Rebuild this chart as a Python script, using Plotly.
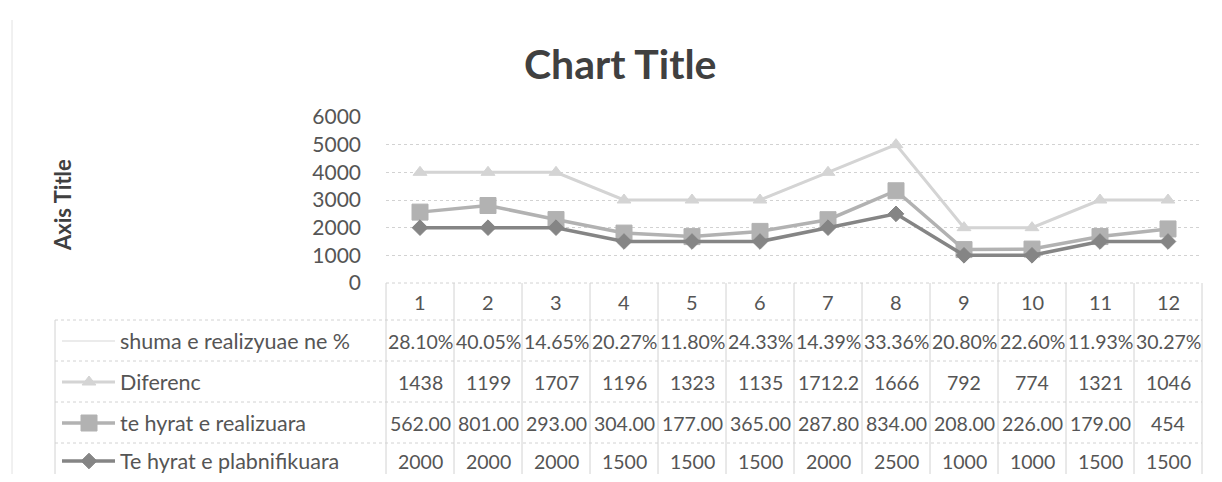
import plotly.graph_objects as go

# ---------------- data ----------------
months = ["1", "2", "3", "4", "5", "6", "7", "8", "9", "10", "11", "12"]
planned = [2000, 2000, 2000, 1500, 1500, 1500, 2000, 2500, 1000, 1000, 1500, 1500]
realized = [562, 801, 293, 304, 177, 365, 287.8, 834, 208, 226, 179, 454]
diferenc = [1438, 1199, 1707, 1196, 1323, 1135, 1712.2, 1666, 792, 774, 1321, 1046]
pct = [0.2810, 0.4005, 0.1465, 0.2027, 0.1180, 0.2433, 0.1439, 0.3336, 0.2080, 0.2260, 0.1193, 0.3027]

realized_labels = ["562.00", "801.00", "293.00", "304.00", "177.00", "365.00",
                   "287.80", "834.00", "208.00", "226.00", "179.00", "454"]
diferenc_labels = ["1438", "1199", "1707", "1196", "1323", "1135",
                   "1712.2", "1666", "792", "774", "1321", "1046"]
planned_labels = [str(v) for v in planned]
pct_labels = [f"{p*100:.2f}%" for p in pct]

series_names = ["shuma e realizyuae ne %", "Diferenc", "te hyrat e realizuara", "Te hyrat e plabnifikuara"]
y_ticks = [0, 1000, 2000, 3000, 4000, 5000, 6000]

# ---------------- geometry helpers (reference pixels -> paper) ----------------
PAGE_MARGIN = 8
W, H = 1222 - 2 * PAGE_MARGIN, 482 - 2 * PAGE_MARGIN
def X(px):
    return (px - PAGE_MARGIN) / W
def Y(py):
    return 1 - (py - PAGE_MARGIN) / H

FONT = "Lato, Carlito, Calibri, sans-serif"
TXT = "#555555"
GRID = "#d2d2d2"

plot_left, plot_right = 386, 1202
plot_top, plot_bottom = 117, 283
n = len(months)
colw = (plot_right - plot_left) / n

# stacked values (Excel stacked line)
s1 = planned
s2 = [a + b for a, b in zip(s1, realized)]
s3 = [a + b for a, b in zip(s2, diferenc)]
s4 = [a + b for a, b in zip(s3, pct)]
xs = list(range(1, n + 1))

styles = {
    "Te hyrat e plabnifikuara": dict(color="#858585", symbol="diamond", size=12, width=3.5),
    "te hyrat e realizuara": dict(color="#b2b2b2", symbol="square", size=16, width=3.5),
    "Diferenc": dict(color="#d4d4d4", symbol="triangle-up", size=12, width=3),
    "shuma e realizyuae ne %": dict(color="#ebebeb", symbol=None, size=0, width=2),
}

fig = go.Figure()
for name, ys in [("shuma e realizyuae ne %", s4), ("Diferenc", s3),
                 ("te hyrat e realizuara", s2), ("Te hyrat e plabnifikuara", s1)]:
    st = styles[name]
    mode = "lines+markers" if st["symbol"] else "lines"
    fig.add_trace(go.Scatter(
        x=xs, y=ys, name=name, mode=mode,
        line=dict(color=st["color"], width=st["width"]),
        marker=dict(symbol=st["symbol"] or "circle", size=st["size"], color=st["color"],
                    line=dict(color=st["color"], width=1)),
        showlegend=False,
    ))

fig.update_layout(
    width=W, height=H,
    margin=dict(l=0, r=0, t=0, b=0, autoexpand=False),
    paper_bgcolor="white", plot_bgcolor="rgba(0,0,0,0)",
    font=dict(family=FONT, color=TXT),
    xaxis=dict(domain=[X(plot_left), X(plot_right)], range=[0.5, n + 0.5],
               showgrid=False, zeroline=False, showticklabels=False, showline=False,
               automargin=False),
    yaxis=dict(domain=[Y(plot_bottom), Y(plot_top)], range=[0, 6000],
               tickvals=y_ticks, ticktext=[str(v) for v in y_ticks],
               showgrid=True, gridcolor=GRID, gridwidth=1, griddash="dot",
               zeroline=False, showline=False, automargin=False,
               tickfont=dict(size=21, color=TXT, family=FONT),
               ticks="", ticklabelstandoff=24),
)

shapes = []
annotations = []

def label(px, py, text, size, xanchor="center", color=TXT, angle=0):
    annotations.append(dict(x=X(px), y=Y(py), xref="paper", yref="paper", text=text,
                            showarrow=False, xanchor=xanchor, yanchor="middle", textangle=angle,
                            font=dict(size=size, color=color, family=FONT)))

# title and axis title
label(620, 63, "<b>Chart Title</b>", 41, color="#404040")
label(62, 205, "<b>Axis Title</b>", 22, color="#404040", angle=-90)

# faint left chart border
shapes.append(dict(type="line", xref="paper", yref="paper", x0=X(12), x1=X(12), y0=Y(20), y1=Y(482),
                   line=dict(color="#e2e2e2", width=1)))

# ---------------- data table ----------------
table_left = 55
row_edges = [283, 320, 361, 402, 443, 482]
for i, ry in enumerate(row_edges):
    x0 = plot_left if i == 0 else table_left
    shapes.append(dict(type="line", xref="paper", yref="paper", x0=X(x0), x1=X(plot_right),
                       y0=Y(ry), y1=Y(ry), line=dict(color=GRID, width=1, dash="dot")))
for k in range(n + 1):
    cx = plot_left + k * colw
    shapes.append(dict(type="line", xref="paper", yref="paper", x0=X(cx), x1=X(cx),
                       y0=Y(283), y1=Y(482), line=dict(color=GRID, width=1)))
shapes.append(dict(type="line", xref="paper", yref="paper", x0=X(table_left), x1=X(table_left),
                   y0=Y(320), y1=Y(482), line=dict(color=GRID, width=1)))

# category labels
for k, m in enumerate(months):
    label(plot_left + (k + 0.5) * colw, 302, m, 20)

rows = [
    ("shuma e realizyuae ne %", pct_labels, 341),
    ("Diferenc", diferenc_labels, 382),
    ("te hyrat e realizuara", realized_labels, 423),
    ("Te hyrat e plabnifikuara", planned_labels, 461),
]
for name, labels, ry in rows:
    st = styles[name]
    shapes.append(dict(type="line", xref="paper", yref="paper", x0=X(62), x1=X(115), y0=Y(ry), y1=Y(ry),
                       line=dict(color=st["color"], width=st["width"])))
    label(118, ry, name, 21.5, xanchor="left")
    for k, lab in enumerate(labels):
        label(plot_left + (k + 0.5) * colw, ry, lab, 19.5)

# legend key markers on a full-page helper axis
for name, labels, ry in rows:
    st = styles[name]
    if not st["symbol"]:
        continue
    fig.add_trace(go.Scatter(
        x=[X(89)], y=[Y(ry)], mode="markers", xaxis="x2", yaxis="y2", showlegend=False,
        marker=dict(symbol=st["symbol"], size=st["size"], color=st["color"],
                    line=dict(color=st["color"], width=1)),
        hoverinfo="skip", cliponaxis=False))

fig.update_layout(
    xaxis2=dict(domain=[0, 1], range=[0, 1], visible=False, anchor="y2", automargin=False),
    yaxis2=dict(domain=[0, 1], range=[0, 1], visible=False, anchor="x2", automargin=False),
    shapes=shapes, annotations=annotations,
)

fig.write_html("out.html")
